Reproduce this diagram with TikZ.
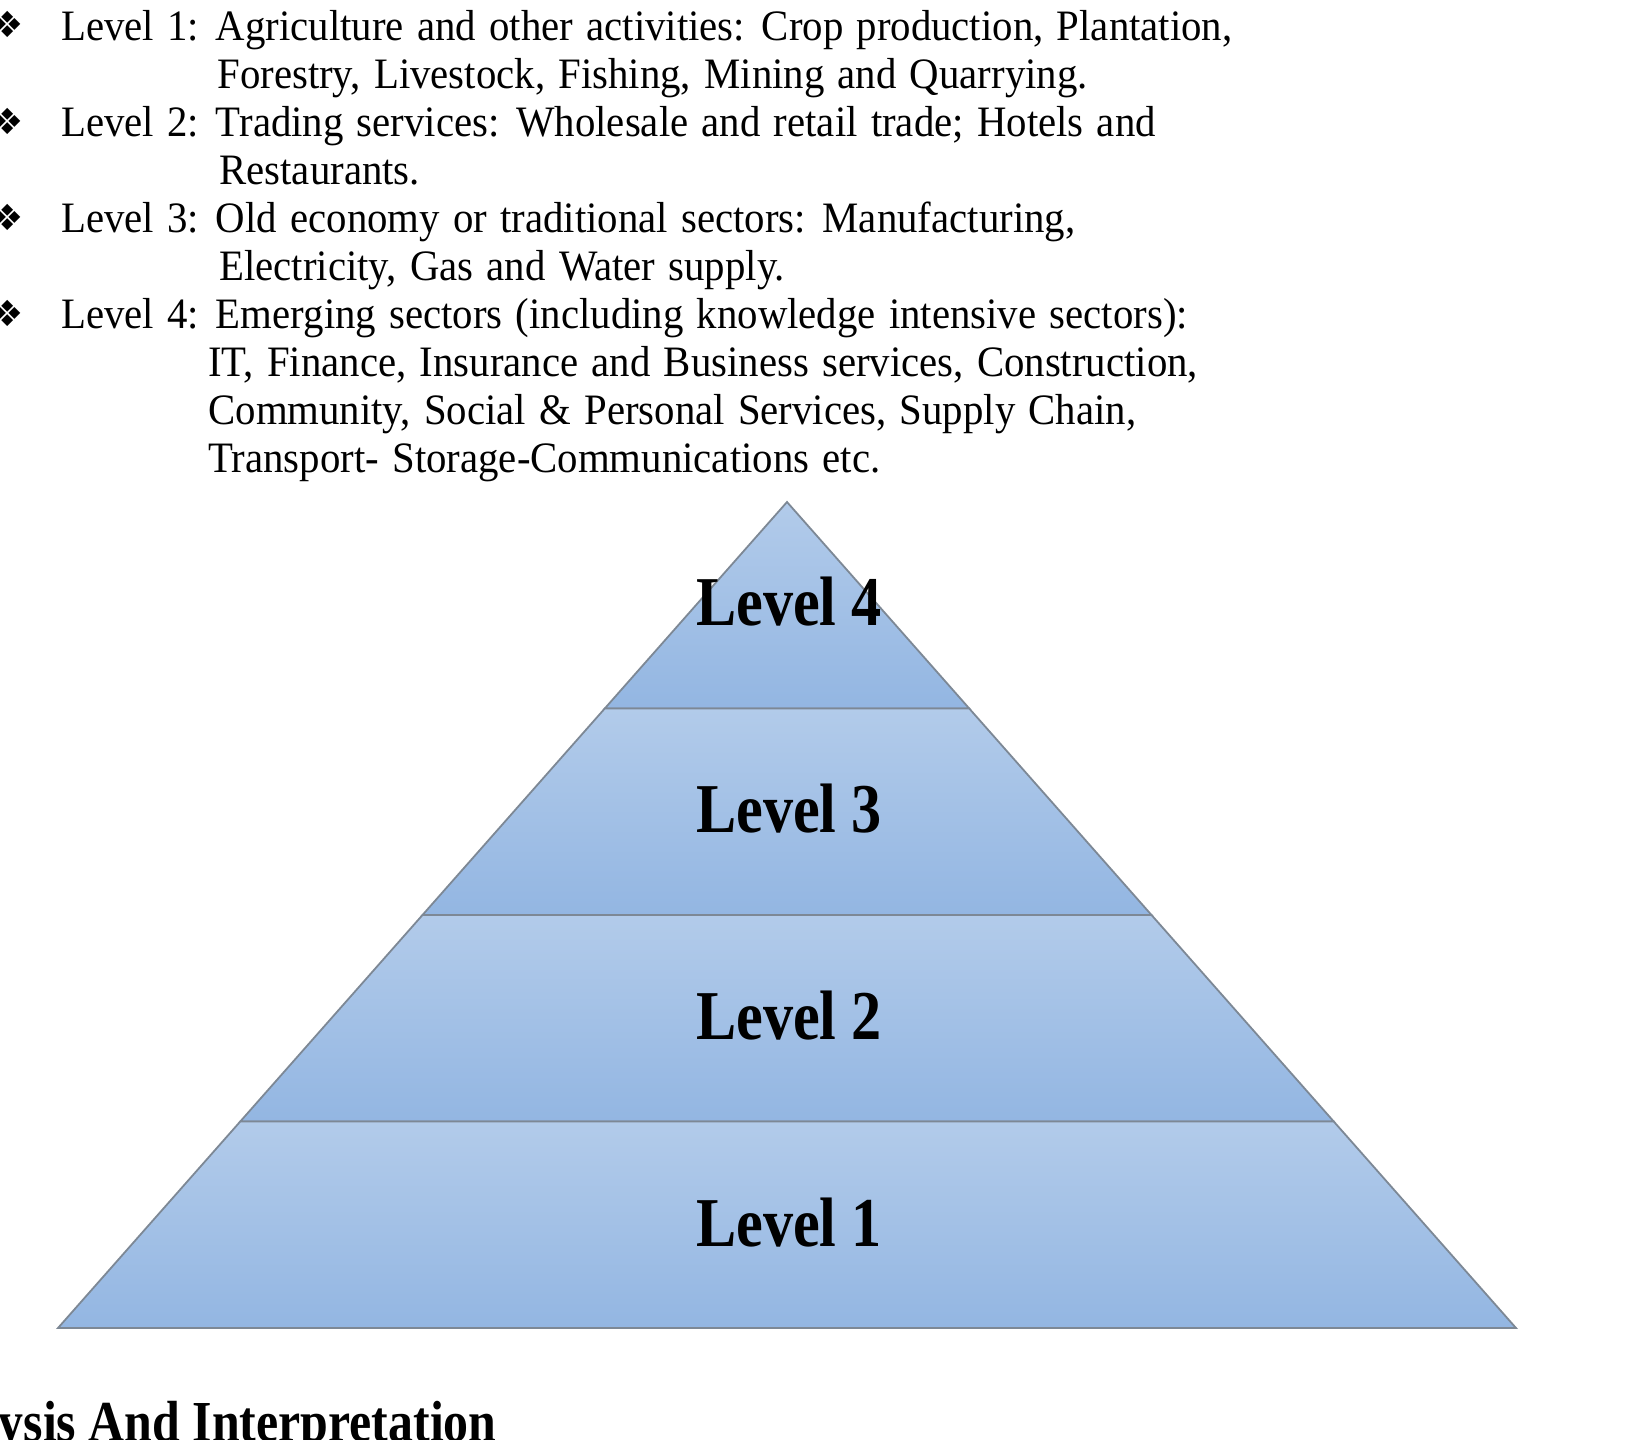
\documentclass[tikz,border=0pt]{standalone}
\usepackage{fontspec}
\newfontfamily\serifnarrow[FakeStretch=0.94, WordSpace=1.3]{Liberation Serif}
\newfontfamily\serifbold[FakeStretch=0.86]{Liberation Serif}
\newfontfamily\symbfont{DejaVu Sans}
\usetikzlibrary{calc}

\definecolor{bandtop}{HTML}{B2CBEA}
\definecolor{bandbot}{HTML}{93B6E2}
\definecolor{edgegray}{HTML}{7D8895}

\begin{document}
\begin{tikzpicture}[
  x=0.5pt, y=-0.5pt,
  font=\serifnarrow\fontsize{21.7}{24}\selectfont,
  band/.style={draw=edgegray, line width=0.9pt, top color=bandtop, bottom color=bandbot},
  lvl/.style={anchor=base, inner sep=0pt, font=\serifbold\bfseries\fontsize{35}{40}\selectfont},
  item/.style={anchor=base west, inner sep=0pt},
  bullet/.style={anchor=base, inner sep=0pt, font=\symbfont\fontsize{18}{20}\selectfont},
  heading/.style={anchor=base east, inner sep=0pt, font=\serifbold\bfseries\fontsize{29}{32}\selectfont}
]
\useasboundingbox (0,0) rectangle (1650,1440);

% =========================
% Level descriptions
% =========================
\node[bullet] (b1) at (8,38) {❖};
\node[item] (l1a) at (61,40) {Level 1: Agriculture and other activities: Crop production, Plantation,};
\node[item] (l1b) at (217,88) {Forestry, Livestock, Fishing, Mining and Quarrying.};

\node[bullet] (b2) at (8,134) {❖};
\node[item] (l2a) at (61,136) {Level 2: Trading services: Wholesale and retail trade; Hotels and};
\node[item] (l2b) at (219,184) {Restaurants.};

\node[bullet] (b3) at (8,230) {❖};
\node[item] (l3a) at (61,232) {Level 3: Old economy or traditional sectors: Manufacturing,};
\node[item] (l3b) at (219,280) {Electricity, Gas and Water supply.};

\node[bullet] (b4) at (8,326) {❖};
\node[item] (l4a) at (61,328) {Level 4: Emerging sectors (including knowledge intensive sectors):};
\node[item] (l4b) at (208,376) {IT, Finance, Insurance and Business services, Construction,};
\node[item] (l4c) at (208,424) {Community, Social \& Personal Services, Supply Chain,};
\node[item] (l4d) at (208,472) {Transport- Storage-Communications etc.};

% =========================
% Pyramid
% =========================
\coordinate (apex) at (787,502);
\coordinate (bl) at (58,1328);
\coordinate (br) at (1516,1328);

\foreach \a/\b in {0/0.25, 0.25/0.5, 0.5/0.75, 0.75/1}
  \draw[band] ($(apex)!\a!(bl)$) -- ($(apex)!\b!(bl)$) -- ($(apex)!\b!(br)$) -- ($(apex)!\a!(br)$) -- cycle;

% labels
\node[lvl] (lvl4) at (789,625) {Level 4};
\node[lvl] (lvl3) at (789,832) {Level 3};
\node[lvl] (lvl2) at (789,1039) {Level 2};
\node[lvl] (lvl1) at (789,1246) {Level 1};

% section heading (cut off)
\node[heading] (sect) at (497,1441) {ysis And Interpretation};

\end{tikzpicture}
\end{document}
